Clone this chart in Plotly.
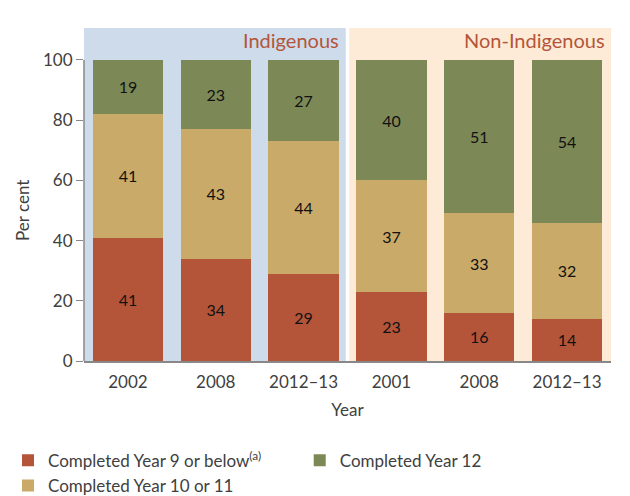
import plotly.graph_objects as go

YEARS = ["2002", "2008", "2012–13", "2001", "2008", "2012–13"]
GROUPS = ["Indigenous", "Non-Indigenous"]

# printed labels
YEAR9_LABELS = [41, 34, 29, 23, 16, 14]
YEAR10_11_LABELS = [41, 43, 44, 37, 33, 32]
YEAR12_LABELS = [19, 23, 27, 40, 51, 54]

# segment heights as drawn (first column's rounded labels sum to 101)
YEAR9 = [40.9, 34, 29, 23, 16, 14]
YEAR10_11 = [41.2, 43, 44, 37, 33, 32]
YEAR12 = [17.9, 23, 27, 40, 51, 54]

RED = "#B4553A"
TAN = "#C9AA68"
GREEN = "#7C8957"
BLUE_BG = "#CDDBEB"
PEACH_BG = "#FDEBD7"
TEXT = "#404040"
FONT = "Lato, Liberation Sans, sans-serif"

# the page body adds an 8px margin, so the figure is 8px smaller than the window
FIG_W, FIG_H = 622, 488

pos = list(range(len(YEARS)))

series = [
  ("Completed Year 9 or below<sup>(a)</sup>", YEAR9, YEAR9_LABELS, RED, "legend"),
  ("Completed Year 10 or 11", YEAR10_11, YEAR10_11_LABELS, TAN, "legend"),
  ("Completed Year 12", YEAR12, YEAR12_LABELS, GREEN, "legend2"),
]

fig = go.Figure()
for name, vals, labels, color, leg in series:
  fig.add_trace(
    go.Bar(
      x=pos,
      y=vals,
      name=name,
      legend=leg,
      marker=dict(color=color, line=dict(width=0)),
      width=0.8,
      text=[str(v) for v in labels],
      textposition="inside",
      insidetextanchor="middle",
      textangle=0,
      textfont=dict(color="#111111", size=16, family=FONT),
      hovertemplate="%{text}<extra></extra>",
    )
  )

legend_style = dict(
  orientation="v",
  xref="container",
  yref="container",
  xanchor="left",
  yanchor="top",
  itemwidth=30,
  tracegroupgap=0,
  font=dict(size=17, color=TEXT),
  traceorder="normal",
  itemclick=False,
  bgcolor="rgba(0,0,0,0)",
)

fig.update_layout(
  width=FIG_W,
  height=FIG_H,
  barmode="stack",
  paper_bgcolor="white",
  plot_bgcolor="white",
  margin=dict(l=76, r=19, t=20, b=135, autoexpand=False),
  font=dict(family=FONT, color=TEXT),
  xaxis=dict(
    range=[-0.5, 5.5],
    tickvals=pos,
    ticktext=YEARS,
    tickfont=dict(size=17, color=TEXT),
    showgrid=False,
    zeroline=False,
    showline=True,
    linecolor="#888888",
    linewidth=1.5,
    ticks="",
    ticklabelstandoff=5,
    automargin=False,
    title=dict(text="Year", font=dict(size=17, color=TEXT), standoff=13),
  ),
  yaxis=dict(
    range=[0, 110.6],
    tickvals=[0, 20, 40, 60, 80, 100],
    ticksuffix=" ",
    tickfont=dict(size=17, color=TEXT),
    showgrid=False,
    zeroline=False,
    showline=False,
    ticks="outside",
    ticklen=7,
    tickcolor="#888888",
    automargin=False,
  ),
  legend=dict(x=0.0, y=0.109, **legend_style),
  legend2=dict(x=0.469, y=0.109, **legend_style),
  shapes=[
    dict(type="rect", xref="x", yref="paper", x0=-0.5, x1=2.48, y0=0, y1=1,
         fillcolor=BLUE_BG, line=dict(width=0), layer="below"),
    dict(type="rect", xref="x", yref="paper", x0=2.52, x1=5.5, y0=0, y1=1,
         fillcolor=PEACH_BG, line=dict(width=0), layer="below"),
    dict(type="line", xref="paper", yref="y", x0=0, x1=0, y0=0, y1=100,
         line=dict(color="#888888", width=1.5)),
  ],
  annotations=[
    dict(text=GROUPS[0], x=2.43, y=106.5, xref="x", yref="y", xanchor="right",
         yanchor="middle", showarrow=False, font=dict(size=20, color=RED)),
    dict(text=GROUPS[1], x=5.45, y=106.5, xref="x", yref="y", xanchor="right",
         yanchor="middle", showarrow=False, font=dict(size=20, color=RED)),
    # y axis title as an annotation: the built-in title misplaces itself here
    dict(text="Per cent", x=-0.118, y=0.453, xref="paper", yref="paper",
         xanchor="center", yanchor="middle", textangle=-90, showarrow=False,
         font=dict(size=17, color=TEXT)),
  ],
)

fig.write_html("out.html")
